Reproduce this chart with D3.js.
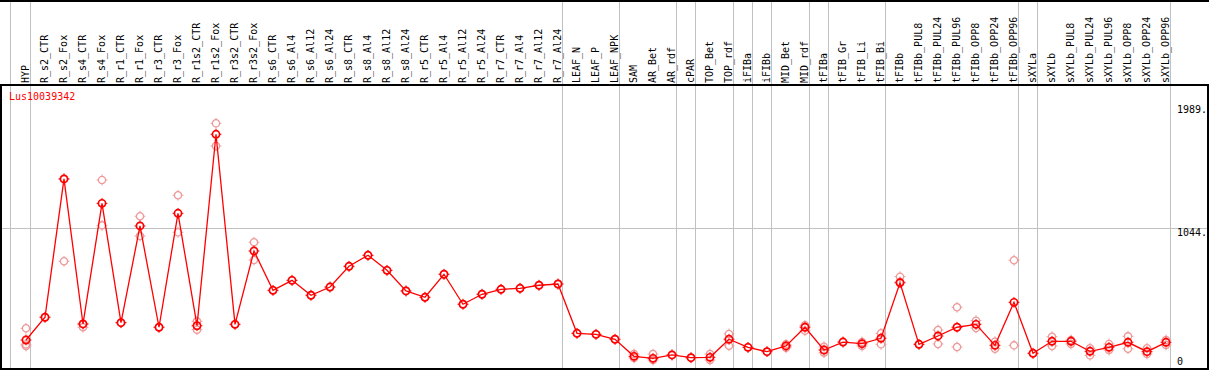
<!DOCTYPE html>
<html>
<head>
<meta charset="utf-8">
<script src="https://cdn.jsdelivr.net/npm/d3@7"></script>
<style>
  body { margin: 0; background: #fff; }
  svg { display: block; font-family: "DejaVu Sans Mono", monospace; }
</style>
</head>
<body>
<div class="chart"></div>
<script>
"use strict";

const geneId = "Lus10039342";

const samples = [
  "HYP", "R_s2_CTR", "R_s2_Fox", "R_s4_CTR", "R_s4_Fox", "R_r1_CTR", "R_r1_Fox",
  "R_r3_CTR", "R_r3_Fox", "R_r1s2_CTR", "R_r1s2_Fox", "R_r3s2_CTR", "R_r3s2_Fox",
  "R_s6_CTR", "R_s6_Al4", "R_s6_Al12", "R_s6_Al24", "R_s8_CTR", "R_s8_Al4",
  "R_s8_Al12", "R_s8_Al24", "R_r5_CTR", "R_r5_Al4", "R_r5_Al12", "R_r5_Al24",
  "R_r7_CTR", "R_r7_Al4", "R_r7_Al12", "R_r7_Al24", "LEAF_N", "LEAF_P", "LEAF_NPK",
  "SAM", "AR_Bet", "AR_rdf", "cPAR", "TOP_Bet", "TOP_rdf", "iFIBa", "iFIBb",
  "MID_Bet", "MID_rdf", "tFIBa", "tFIB_Gr", "tFIB_Li", "tFIB_Bi", "tFIBb",
  "tFIBb_PUL8", "tFIBb_PUL24", "tFIBb_PUL96", "tFIBb_OPP8", "tFIBb_OPP24", "tFIBb_OPP96",
  "sXYLa", "sXYLb", "sXYLb_PUL8", "sXYLb_PUL24", "sXYLb_PUL96", "sXYLb_OPP8",
  "sXYLb_OPP24", "sXYLb_OPP96"
];

// mean expression per sample
const means = [
  158, 338, 1432, 285, 1239, 295, 1060, 259, 1160, 271, 1785, 282, 862,
  551, 630, 512, 577, 741, 828, 709, 546, 496, 678, 441, 520, 559, 567, 591, 601,
  211, 203, 164, 29, 13, 40, 18, 21, 164, 100, 66, 111, 259, 79, 142, 129, 172,
  611, 124, 190, 259, 282, 116, 456, 53, 148, 148, 69, 100, 140, 66, 140
];

// individual replicates (where visible)
const replicates = [
  [251, 124, 111], [338], [781, 1432], [259, 285], [1424, 1065], [295], [1137, 981],
  [259], [1303, 1010], [306, 240], [1872, 1693], [282], [931, 791],
  [551], [630], [512], [577], [741], [828], [709], [546], [496], [678], [441], [520],
  [559], [567], [591], [601], [211], [203], [164], [47, 16], [47, 0], [40], [18],
  [47, 0], [206, 113], [100], [66], [124, 97], [274, 232], [105, 58], [142],
  [142, 111], [211, 124], [659, 617], [124], [237, 127], [417, 103], [311, 253],
  [145, 89], [789, 116], [53], [184, 111], [158, 127], [93, 37], [127, 79],
  [187, 89], [93, 47], [158, 119]
];

// samples after which a group separator is drawn
const groupEnds = [
  "HYP", "R_r7_Al24", "LEAF_NPK", "AR_rdf", "cPAR", "TOP_rdf", "iFIBa", "iFIBb",
  "MID_rdf", "tFIBa", "tFIB_Bi", "tFIBb_OPP96", "sXYLa", "sXYLb_OPP96"
];

const yTicks = [0, 1044, 1989];

const width = 1209;
const height = 370;
const headerBottom = 85;
const plotBottom = 369;

const svg = d3
  .select(".chart")
  .append("svg")
  .attr("width", width)
  .attr("height", height);

const x = d3.scalePoint().domain(samples).range([26, 1166]);
const y = d3.scaleLinear().domain([0, 1989]).range([360, 108.5]);

// group separators (full height)
const sepX = [x(samples[0]) - 16].concat(groupEnds.map((s) => x(s) + 4.3));
svg
  .append("g")
  .selectAll("line")
  .data(sepX)
  .join("line")
  .attr("x1", (d) => Math.round(d) + 0.5)
  .attr("x2", (d) => Math.round(d) + 0.5)
  .attr("y1", 0)
  .attr("y2", plotBottom)
  .attr("stroke", "#c0c0c0")
  .attr("stroke-width", 1);

// mid gridline
svg
  .append("line")
  .attr("x1", 1)
  .attr("x2", 1207)
  .attr("y1", Math.round(y(1044)) + 0.5)
  .attr("y2", Math.round(y(1044)) + 0.5)
  .attr("stroke", "#c0c0c0");

// frame
const frame = svg.append("g").attr("stroke", "#000").attr("stroke-width", 2);
frame.append("line").attr("x1", 0).attr("x2", width).attr("y1", 1).attr("y2", 1);
frame.append("line").attr("x1", 0).attr("x2", width).attr("y1", headerBottom).attr("y2", headerBottom);
frame.append("line").attr("x1", 0).attr("x2", width).attr("y1", plotBottom).attr("y2", plotBottom);
frame.append("line").attr("x1", 1).attr("x2", 1).attr("y1", headerBottom).attr("y2", plotBottom);
frame.append("line").attr("x1", 1208).attr("x2", 1208).attr("y1", headerBottom).attr("y2", plotBottom);

// rotated sample labels
svg
  .append("g")
  .attr("font-size", 10)
  .selectAll("text")
  .data(samples)
  .join("text")
  .attr("transform", (d) => `translate(${x(d) + 2.5},83) rotate(-90)`)
  .attr("fill", "#000")
  .text((d) => d);

// value labels on the right
svg
  .append("g")
  .attr("font-size", 10)
  .selectAll("text")
  .data(yTicks)
  .join("text")
  .attr("x", 1177)
  .attr("y", (d, i) => y(d) + (i === 0 ? 5 : i === yTicks.length - 1 ? 4.5 : 8))
  .attr("fill", "#000")
  .text((d) => (d === 0 ? "0" : d + "."));

function marker(g, r, color, sw) {
  g.append("circle")
    .attr("r", r)
    .attr("fill", "none")
    .attr("stroke", color)
    .attr("stroke-width", sw);
  g.append("path")
    .attr("d", `M0,${-r}V${-r - 1.8}M0,${r}V${r + 1.8}M${-r},0H${-r - 1.8}M${r},0H${r + 1.8}`)
    .attr("stroke", color)
    .attr("stroke-width", 1);
}

// replicate points
const reps = samples.flatMap((s, i) => replicates[i].map((v) => ({ s, v })));
svg
  .append("g")
  .selectAll("g")
  .data(reps)
  .join("g")
  .attr("transform", (d) => `translate(${x(d.s)},${y(d.v)})`)
  .each(function () {
    marker(d3.select(this), 3.6, "#ee9a9a", 1.3);
  });

// mean line
const line = d3
  .line()
  .x((d, i) => x(samples[i]))
  .y((d) => y(d));

svg
  .append("path")
  .datum(means)
  .attr("fill", "none")
  .attr("stroke", "#ff0000")
  .attr("stroke-width", 1.3)
  .attr("d", line);

// mean points
svg
  .append("g")
  .selectAll("g")
  .data(means)
  .join("g")
  .attr("transform", (d, i) => `translate(${x(samples[i])},${y(d)})`)
  .each(function () {
    marker(d3.select(this), 3.6, "#ff0000", 1.7);
  });

// gene id
svg
  .append("text")
  .attr("x", 9)
  .attr("y", 100)
  .attr("font-size", 10)
  .attr("fill", "#ff0000")
  .text(geneId);
</script>
</body>
</html>
